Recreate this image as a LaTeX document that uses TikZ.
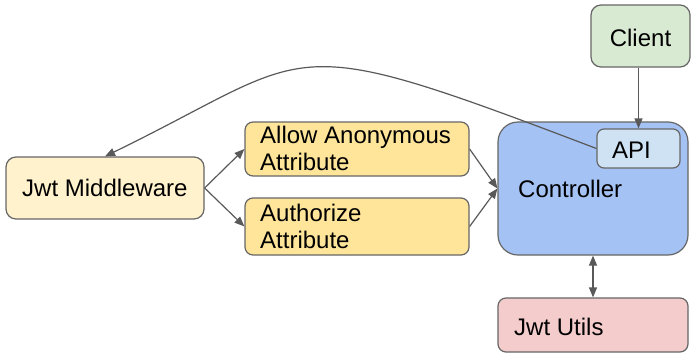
\documentclass[tikz,border=0pt]{standalone}
\usepackage{fontspec}
\setmainfont{Liberation Sans}
\usetikzlibrary{arrows.meta}
\definecolor{bordergray}{HTML}{666666}
\definecolor{linegray}{HTML}{595959}
\definecolor{clientfill}{HTML}{D9EAD3}
\definecolor{ctrlfill}{HTML}{A4C2F4}
\definecolor{apifill}{HTML}{CFE2F3}
\definecolor{utilsfill}{HTML}{F4CCCC}
\definecolor{mwfill}{HTML}{FFF2CC}
\definecolor{attrfill}{HTML}{FFE599}
\begin{document}
\begin{tikzpicture}[x=1pt,y=-1pt,
  box/.style={draw=bordergray, line width=1.2pt, rounded corners=8pt, inner sep=0pt},
  lbl/.style={anchor=base west, inner sep=0pt, font=\fontsize{24}{27}\selectfont},
  conn/.style={draw=linegray, line width=1.2pt, -{Triangle[length=10pt,width=8pt]}},
  bothconn/.style={draw=linegray, line width=1.2pt, {Triangle[length=10pt,width=8pt]}-{Triangle[length=10pt,width=8pt]}}]
\useasboundingbox (0,0) rectangle (698,359);
% boxes
\node[box, fill=clientfill, rounded corners=10pt, minimum width=99pt, minimum height=62pt] (client) at (640.5,36) {};
\node[box, fill=ctrlfill, rounded corners=20pt, minimum width=190pt, minimum height=133pt] (ctrl) at (593,188.5) {};
\node[box, fill=apifill, rounded corners=7pt, minimum width=83pt, minimum height=39pt] (api) at (638.5,148.5) {};
\node[box, fill=utilsfill, minimum width=190pt, minimum height=54pt] (utils) at (593,325) {};
\node[box, fill=mwfill, rounded corners=10pt, minimum width=198pt, minimum height=62pt] (mw) at (105,188) {};
\node[box, fill=attrfill, minimum width=224pt, minimum height=54pt] (allow) at (357,149) {};
\node[box, fill=attrfill, minimum width=224pt, minimum height=57pt] (auth) at (357,226.5) {};
% labels
\node[lbl, anchor=base] (tclient) at (640.5,46) {Client};
\node[lbl] (tctrl) at (518,197) {Controller};
\node[lbl] (tapi) at (612,158) {API};
\node[lbl] (tutils) at (514,335) {Jwt Utils};
\node[lbl] (tmw) at (22,196) {Jwt Middleware};
\node[lbl] (tallow1) at (260,143) {Allow Anonymous};
\node[lbl] (tallow2) at (260,170) {Attribute};
\node[lbl] (tauth1) at (260,221) {Authorize};
\node[lbl] (tauth2) at (260,248) {Attribute};
% connectors
\draw[conn] (client.south -| api.north) -- (api.north);
\draw[conn] (mw.east) -- (allow.west);
\draw[conn] (mw.east) -- (auth.west);
\draw[conn] (allow.east) -- (ctrl.west);
\draw[conn] (auth.east) -- (ctrl.west);
\draw[bothconn] (ctrl.south) -- (utils.north);
\draw[conn] (api.west) .. controls (277,26.8) and (320,51.6) .. (mw.north);
\end{tikzpicture}
\end{document}
